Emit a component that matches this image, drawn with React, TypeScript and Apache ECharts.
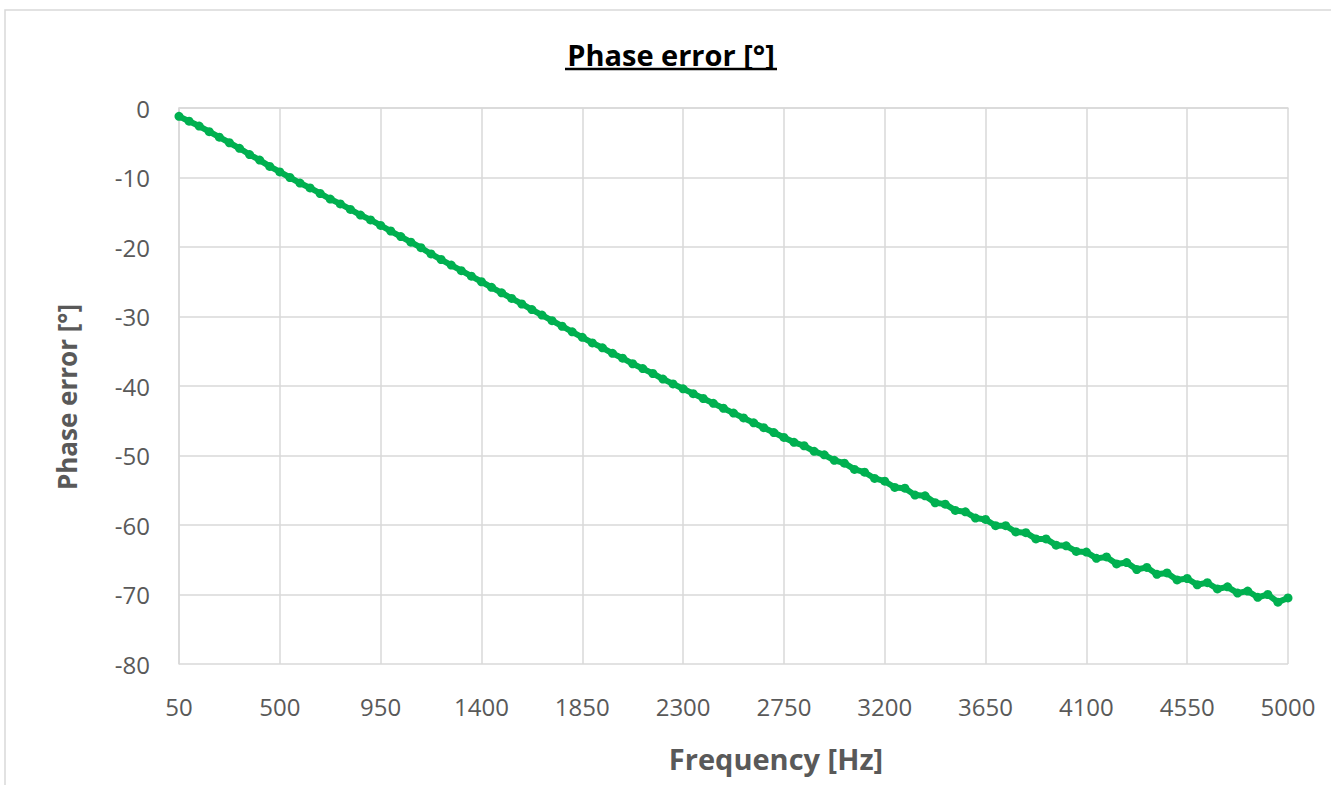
import React, { useEffect, useRef } from "react";
import * as echarts from "echarts";

const frequencies: string[] = [
  "50", "95", "140", "185", "230", "275", "320", "365", "410", "455",
  "500", "545", "590", "635", "680", "725", "770", "815", "860", "905",
  "950", "995", "1040", "1085", "1130", "1175", "1220", "1265", "1310", "1355",
  "1400", "1445", "1490", "1535", "1580", "1625", "1670", "1715", "1760", "1805",
  "1850", "1895", "1940", "1985", "2030", "2075", "2120", "2165", "2210", "2255",
  "2300", "2345", "2390", "2435", "2480", "2525", "2570", "2615", "2660", "2705",
  "2750", "2795", "2840", "2885", "2930", "2975", "3020", "3065", "3110", "3155",
  "3200", "3245", "3290", "3335", "3380", "3425", "3470", "3515", "3560", "3605",
  "3650", "3695", "3740", "3785", "3830", "3875", "3920", "3965", "4010", "4055",
  "4100", "4145", "4190", "4235", "4280", "4325", "4370", "4415", "4460", "4505",
  "4550", "4595", "4640", "4685", "4730", "4775", "4820", "4865", "4910", "4955",
  "5000",
];

const phaseError: number[] = [
  -1.2, -1.9, -2.6, -3.4, -4.2, -5.0, -5.8, -6.7, -7.5, -8.4,
  -9.2, -10.0, -10.8, -11.5, -12.3, -13.1, -13.8, -14.6, -15.4, -16.1,
  -16.9, -17.7, -18.5, -19.3, -20.1, -21.0, -21.8, -22.6, -23.4, -24.2,
  -25.0, -25.8, -26.6, -27.4, -28.2, -29.0, -29.8, -30.6, -31.4, -32.2,
  -33.0, -33.8, -34.5, -35.3, -36.0, -36.8, -37.5, -38.2, -39.0, -39.7,
  -40.4, -41.1, -41.8, -42.5, -43.2, -43.9, -44.6, -45.3, -46.0, -46.7,
  -47.4, -48.1, -48.6, -49.4, -49.9, -50.7, -51.1, -52.0, -52.4, -53.3,
  -53.7, -54.6, -54.7, -55.7, -55.8, -56.8, -57.0, -57.9, -58.1, -59.0,
  -59.2, -60.1, -60.1, -61.0, -61.1, -62.0, -62.0, -62.9, -63.0, -63.8,
  -63.9, -64.8, -64.6, -65.6, -65.4, -66.4, -66.1, -67.1, -66.9, -67.9,
  -67.7, -68.6, -68.3, -69.2, -68.9, -69.8, -69.5, -70.4, -70.0, -71.1,
  -70.5,
];

const yTicks = { min: -80, max: 0, interval: 10 };

const TITLE = "Phase error [°]";
const X_NAME = "Frequency [Hz]";
const Y_NAME = "Phase error [°]";

export default function App() {
  const ref = useRef<HTMLDivElement>(null);

  useEffect(() => {
    if (!ref.current) return;
    const chart = echarts.init(ref.current, undefined, { renderer: "svg" });
    const font = "'Open Sans', 'Noto Sans', sans-serif";
    const labelColor = "#595959";
    const gridColor = "#d9d9d9";
    chart.setOption({
      animation: false,
      backgroundColor: "#ffffff",
      graphic: [
        {
          type: "rect",
          shape: { x: 5, y: 10, width: 1400, height: 900 },
          style: { fill: "none", stroke: "#d9d9d9", lineWidth: 1.5 },
          silent: true,
        },
        {
          type: "text",
          x: 671,
          y: 54,
          style: {
            text: TITLE,
            fontFamily: font,
            fontSize: 29,
            fontWeight: "bold",
            fill: "#000000",
            align: "center",
            verticalAlign: "middle",
          },
          silent: true,
        },
        {
          type: "line",
          shape: { x1: 565, y1: 69, x2: 777, y2: 69 },
          style: { stroke: "#000000", lineWidth: 2.5 },
          silent: true,
        },
        {
          type: "text",
          x: 776,
          y: 758,
          style: {
            text: X_NAME,
            fontFamily: font,
            fontSize: 29,
            fontWeight: "bold",
            fill: labelColor,
            align: "center",
            verticalAlign: "middle",
          },
          silent: true,
        },
        {
          type: "text",
          x: 67,
          y: 397,
          rotation: Math.PI / 2,
          style: {
            text: Y_NAME,
            fontFamily: font,
            fontSize: 26,
            fontWeight: "bold",
            fill: labelColor,
            align: "center",
            verticalAlign: "middle",
          },
          silent: true,
        },
      ],
      grid: { left: 179, top: 108, width: 1109, height: 556, containLabel: false },
      xAxis: {
        type: "category",
        data: frequencies,
        boundaryGap: false,
        axisLine: { show: true, lineStyle: { color: gridColor, width: 1.5 } },
        axisTick: { show: false },
        axisLabel: {
          interval: 9,
          margin: 30,
          fontFamily: font,
          fontSize: 24,
          color: labelColor,
          showMaxLabel: true,
        },
        splitLine: { show: true, interval: 9, lineStyle: { color: gridColor, width: 1.5 } },
      },
      yAxis: {
        type: "value",
        min: yTicks.min,
        max: yTicks.max,
        interval: yTicks.interval,
        axisLine: { show: true, lineStyle: { color: gridColor, width: 1.5 } },
        axisTick: { show: false },
        axisLabel: { margin: 29, fontFamily: font, fontSize: 24, color: labelColor },
        splitLine: { show: true, lineStyle: { color: gridColor, width: 1.5 } },
      },
      series: [
        {
          type: "line",
          data: phaseError,
          symbol: "circle",
          symbolSize: 9,
          showSymbol: true,
          showAllSymbol: true,
          itemStyle: { color: "#00B050" },
          lineStyle: { color: "#00B050", width: 6 },
          emphasis: { disabled: true },
        },
      ],
    });
    return () => chart.dispose();
  }, []);

  return (
    <div
      ref={ref}
      style={{ position: "absolute", left: 0, top: 0, width: 1331, height: 785 }}
    />
  );
}
